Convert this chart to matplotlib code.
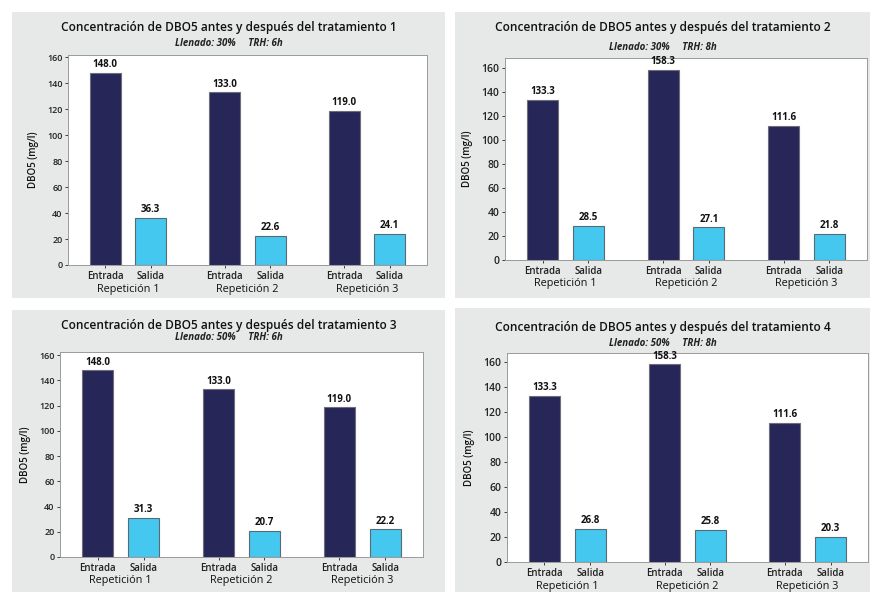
import matplotlib.pyplot as plt
from matplotlib.patches import Rectangle

plt.rcParams['font.family'] = ['Open Sans', 'DejaVu Sans']

# DBO5 (mg/l) a la entrada y a la salida, por tratamiento y repetición
repeticiones = ['Repetición 1', 'Repetición 2', 'Repetición 3']
etapas = ['Entrada', 'Salida']
titulos = ['Concentración de DBO5 antes y después del tratamiento 1',
           'Concentración de DBO5 antes y después del tratamiento 2',
           'Concentración de DBO5 antes y después del tratamiento 3',
           'Concentración de DBO5 antes y después del tratamiento 4']
subtitulos = ['Llenado: 30%     TRH: 6h',
              'Llenado: 30%     TRH: 8h',
              'Llenado: 50%     TRH: 6h',
              'Llenado: 50%     TRH: 8h']
entrada_t1 = [148.0, 133.0, 119.0]
salida_t1 = [36.3, 22.6, 24.1]
entrada_t2 = [133.3, 158.3, 111.6]
salida_t2 = [28.5, 27.1, 21.8]
entrada_t3 = [148.0, 133.0, 119.0]
salida_t3 = [31.3, 20.7, 22.2]
entrada_t4 = [133.3, 158.3, 111.6]
salida_t4 = [26.8, 25.8, 20.3]

W, H = 873, 592
fig = plt.figure(figsize=(W / 100, H / 100), dpi=100)

C_ENT = '#272659'
C_SAL = '#45c8f0'
C_FONDO = '#e7e8e8'


def fx(px):
    return px / W


def fy(py):
    return 1 - py / H


def panel(caja, ejes, ty, sy, ymax, titulo, sub, ent, sal, fs_tick):
    x0, y0, x1, y1 = caja
    fig.patches.append(Rectangle((fx(x0), fy(y1)), fx(x1 - x0), (y1 - y0) / H,
                                 transform=fig.transFigure, facecolor=C_FONDO,
                                 edgecolor='none', zorder=-5))
    cx = fx((x0 + x1) / 2)
    fig.text(cx, fy(ty), titulo, ha='center', va='center', fontsize=8.6,
             fontweight='semibold', color='#111111')
    fig.text(cx, fy(sy), sub, ha='center', va='center', fontsize=7,
             fontweight='bold', style='italic', color='#222222')

    a0, b0, a1, b1 = ejes
    ax = fig.add_axes([fx(a0), fy(b1), fx(a1 - a0), (b1 - b0) / H])
    ax.set_facecolor('white')
    sep = 2.63
    pos_e = [i * sep for i in range(3)]
    pos_s = [i * sep + 1 for i in range(3)]
    be = ax.bar(pos_e, ent, width=0.68, color=C_ENT, edgecolor='#6e6e7a',
                linewidth=0.8, zorder=2)
    bs = ax.bar(pos_s, sal, width=0.68, color=C_SAL, edgecolor='#5a6a72',
                linewidth=0.8, zorder=2)
    for barras, vals in ((be, ent), (bs, sal)):
        for b, v in zip(barras, vals):
            ax.text(b.get_x() + b.get_width() / 2, v + ymax * 0.012,
                    f'{v:.1f}', ha='center', va='bottom', fontsize=7,
                    fontweight='bold', color='#111111')
    ax.set_xlim(-0.82, pos_s[-1] + 0.82)
    ax.set_ylim(0, ymax)
    ax.set_yticks(range(0, 161, 20))
    ticks = []
    etiquetas = []
    for i in range(3):
        ticks += [pos_e[i], pos_s[i]]
        etiquetas += etapas
    ax.set_xticks(ticks)
    ax.set_xticklabels(etiquetas, fontweight='semibold')
    ax.tick_params(axis='x', labelsize=7, length=2.5, width=0.6,
                   colors='#222222', pad=1.5)
    ax.tick_params(axis='y', labelsize=fs_tick, length=2.5, width=0.6,
                   colors='#222222', pad=1.5)
    for lbl in ax.get_yticklabels():
        lbl.set_fontweight('semibold')
    for i, r in enumerate(repeticiones):
        ax.text((pos_e[i] + pos_s[i]) / 2, -0.115, r,
                transform=ax.get_xaxis_transform(), ha='center', va='center',
                fontsize=7.8, color='#111111')
    ax.set_ylabel('DBO5 (mg/l)', fontsize=7, fontweight='semibold',
                  color='#111111', labelpad=6)
    for s in ax.spines.values():
        s.set_color('#9a9a9a')
        s.set_linewidth(0.7)
    return ax


panel((12, 12, 445, 298), (68, 55, 427, 265), 27, 43, 161.8,
      titulos[0], subtitulos[0], entrada_t1, salida_t1, 6.5)
panel((455, 12, 870, 298), (505, 58, 867, 260), 28, 47, 168,
      titulos[1], subtitulos[1], entrada_t2, salida_t2, 7.5)
panel((12, 310, 445, 592), (60, 352, 423, 557), 325, 338, 162.6,
      titulos[2], subtitulos[2], entrada_t3, salida_t3, 6.5)
panel((455, 308, 870, 592), (507, 353, 868, 562), 327, 343, 167.5,
      titulos[3], subtitulos[3], entrada_t4, salida_t4, 7.5)

fig.savefig('out.png', dpi=100)
